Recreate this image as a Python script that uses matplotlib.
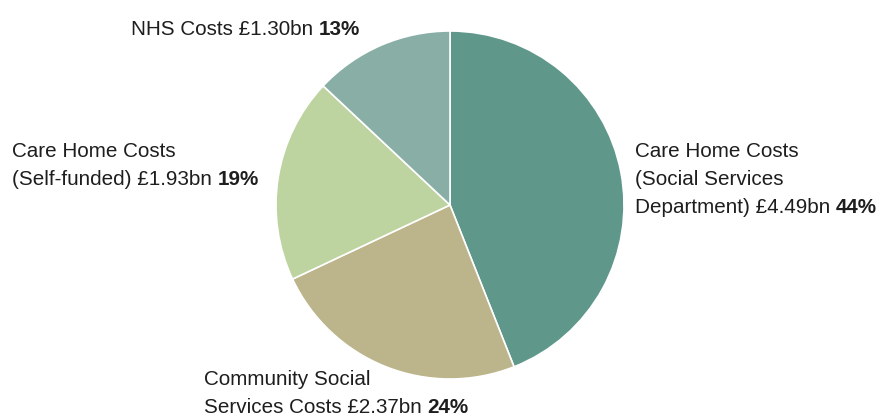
import matplotlib
matplotlib.use("Agg")
import matplotlib.pyplot as plt

plt.rcParams['font.family'] = ['Liberation Sans', 'DejaVu Sans']

# Spending breakdown
categories = ["Care Home Costs (Social Services Department)",
              "Community Social Services Costs",
              "Care Home Costs (Self-funded)",
              "NHS Costs"]
costs_bn = [4.49, 2.37, 1.93, 1.30]
share_pct = [44, 24, 19, 13]
colors = ["#5f978b", "#bcb58b", "#bdd4a0", "#88aea6"]

# label lines: leading plain lines, then the last line which ends with the bold share
label_lines = [
    (["Care Home Costs", "(Social Services"], "Department) £{:.2f}bn "),
    (["Community Social"], "Services Costs £{:.2f}bn "),
    (["Care Home Costs"], "(Self-funded) £{:.2f}bn "),
    ([], "NHS Costs £{:.2f}bn "),
]
# left x and baseline of the last line (pixels, y up)
label_pos = [(635, 203), (204, 3), (12, 231), (131, 381)]
line_gap = 28

fig = plt.figure(figsize=(8.82, 4.16), dpi=100)
ax = fig.add_axes([0, 0, 1, 1])
ax.pie(share_pct, colors=colors, startangle=90, counterclock=False,
       center=(450, 211), radius=174, frame=True,
       wedgeprops=dict(edgecolor="white", linewidth=1.2))
ax.set_xlim(0, 882)
ax.set_ylim(0, 416)
ax.axis("off")

fs = 14.9
txt_color = "#1e1e1e"
for (lead, last), cost, pct, (x, y) in zip(label_lines, costs_bn, share_pct, label_pos):
    n = len(lead)
    for i, line in enumerate(lead):
        ax.text(x, y + (n - i) * line_gap, line, fontsize=fs, color=txt_color,
                ha="left", va="baseline")
    t = ax.text(x, y, last.format(cost), fontsize=fs, color=txt_color,
                ha="left", va="baseline")
    ax.annotate(f"{pct}%", xy=(1, 0), xycoords=t, xytext=(0, 0), textcoords="offset points",
                fontsize=fs, color=txt_color, fontweight="bold",
                ha="left", va="bottom")

fig.savefig("out.png", dpi=100)
